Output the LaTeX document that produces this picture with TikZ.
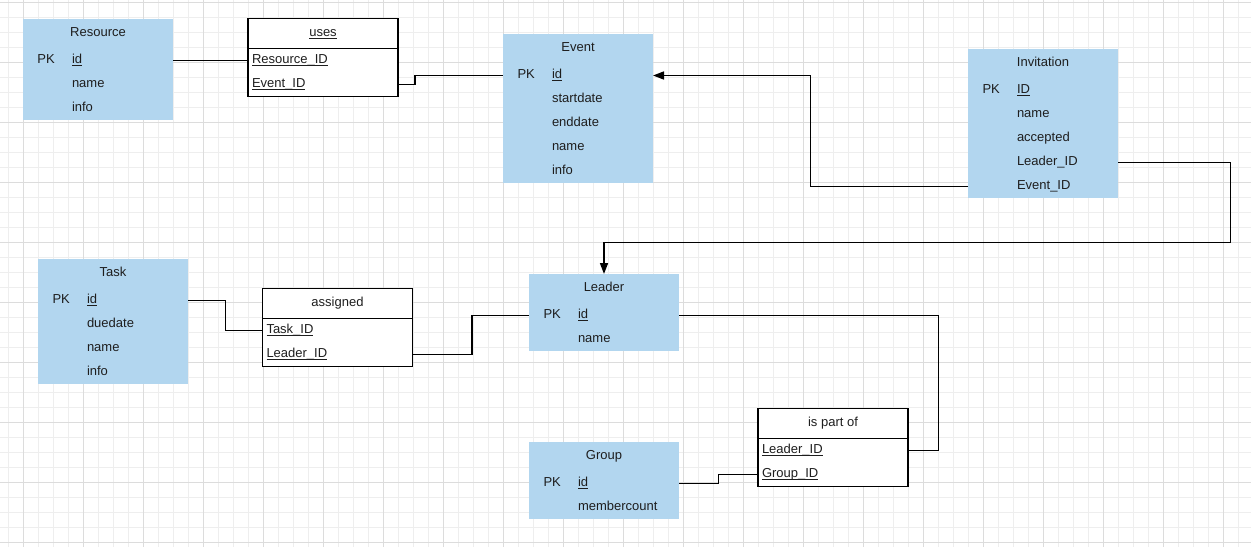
\documentclass[tikz,border=0pt]{standalone}
\usepackage{fontspec}
\setmainfont{Liberation Sans}
\usetikzlibrary{arrows.meta}
\definecolor{entityblue}{HTML}{B2D6EF}
\definecolor{gridminor}{HTML}{EEEEEE}
\definecolor{gridmajor}{HTML}{DCDCDC}
\definecolor{ink}{HTML}{1E1E1E}
% underlined key attribute, rule at a fixed distance below the baseline
\newcommand\keyfield[1]{\setbox0\hbox{#1}\rlap{\rule[-2.2pt]{\wd0}{0.75pt}}\box0}

\begin{document}
\begin{tikzpicture}[x=1pt,y=-1pt,
  every node/.style={font=\fontsize{13}{15}\selectfont, text=ink, inner sep=0pt, outer sep=0pt},
  entity/.style={fill=entityblue, anchor=north west, minimum width=150pt},
  reltable/.style={draw=black, line width=1.7pt, fill=white, anchor=north west,
                   minimum width=150pt, minimum height=78pt},
  txt/.style={text height=9pt, text depth=3pt},
  field/.style={txt, anchor=west},
  title/.style={txt},
  link/.style={draw=black, line width=1.6pt},
  fk/.style={link, -{Triangle[length=11pt,width=8pt]}},
  minorline/.style={draw=gridminor, line width=1pt},
  majorline/.style={draw=gridmajor, line width=1pt}
]
\useasboundingbox (0,0) rectangle (1251,547);
\fill[white] (0,0) rectangle (1251,547);

% background grid
\foreach \i in {0,...,83} \draw[minorline] ({8.33+15*\i},0) -- ({8.33+15*\i},547);
\foreach \j in {0,...,36} \draw[minorline] (0,{2.33+15*\j}) -- (1251,{2.33+15*\j});
\foreach \i in {0,...,20} \draw[majorline] ({23.33+60*\i},0) -- ({23.33+60*\i},547);
\foreach \j in {0,...,9} \draw[majorline] (0,{2.33+60*\j}) -- (1251,{2.33+60*\j});

% ---- entities ----
\node[entity, minimum height=101pt] (resource) at (23,19) {};
\node[title] (res-t) at (98,33) {Resource};
\node[field] (res-pk) at (37.5,60.5) {PK};
\node[field] (res-id) at (72,60.5) {\keyfield{id}};
\node[field] (res-name) at (72,84.5) {name};
\node[field] (res-info) at (72,108.5) {info};

\node[entity, minimum height=149pt] (event) at (503,34) {};
\node[title] (ev-t) at (578,48) {Event};
\node[field] (ev-pk) at (517.5,75.5) {PK};
\node[field] (ev-id) at (552,75.5) {\keyfield{id}};
\node[field] (ev-start) at (552,99.5) {startdate};
\node[field] (ev-end) at (552,123.5) {enddate};
\node[field] (ev-name) at (552,147.5) {name};
\node[field] (ev-info) at (552,171.5) {info};

\node[entity, minimum height=149pt] (invitation) at (968,49) {};
\node[title] (inv-t) at (1043,63) {Invitation};
\node[field] (inv-pk) at (982.5,90.5) {PK};
\node[field] (inv-id) at (1017,90.5) {\keyfield{ID}};
\node[field] (inv-name) at (1017,114.5) {name};
\node[field] (inv-acc) at (1017,138.5) {accepted};
\node[field] (inv-lid) at (1017,162.5) {Leader\_ID};
\node[field] (inv-eid) at (1017,186.5) {Event\_ID};

\node[entity, minimum height=125pt] (task) at (38,259) {};
\node[title] (task-t) at (113,273) {Task};
\node[field] (task-pk) at (52.5,300.5) {PK};
\node[field] (task-id) at (87,300.5) {\keyfield{id}};
\node[field] (task-due) at (87,324.5) {duedate};
\node[field] (task-name) at (87,348.5) {name};
\node[field] (task-info) at (87,372.5) {info};

\node[entity, minimum height=77pt] (leader) at (529,274) {};
\node[title] (ld-t) at (604,288) {Leader};
\node[field] (ld-pk) at (543.5,315.5) {PK};
\node[field] (ld-id) at (578,315.5) {\keyfield{id}};
\node[field] (ld-name) at (578,339.5) {name};

\node[entity, minimum height=77pt] (group) at (529,442) {};
\node[title] (gr-t) at (604,456) {Group};
\node[field] (gr-pk) at (543.5,483.5) {PK};
\node[field] (gr-id) at (578,483.5) {\keyfield{id}};
\node[field] (gr-count) at (578,507.5) {membercount};

% ---- relationship tables ----
\node[reltable] (uses) at (248,18.5) {};
\draw[line width=1.7pt] ([yshift=-30pt]uses.north west) -- ([yshift=-30pt]uses.north east);
\node[title] (uses-t) at (323,33.2) {\keyfield{uses}};
\node[field] (uses-r1) at (252,60.5) {\keyfield{Resource\_ID}};
\node[field] (uses-r2) at (252,84.5) {\keyfield{Event\_ID}};

\node[reltable] (assigned) at (262.5,288.5) {};
\draw[line width=1.7pt] ([yshift=-30pt]assigned.north west) -- ([yshift=-30pt]assigned.north east);
\node[title] (as-t) at (337.5,303.2) {assigned};
\node[field] (as-r1) at (266.5,330.5) {\keyfield{Task\_ID}};
\node[field] (as-r2) at (266.5,354.5) {\keyfield{Leader\_ID}};

\node[reltable] (ispartof) at (758,408.5) {};
\draw[line width=1.7pt] ([yshift=-30pt]ispartof.north west) -- ([yshift=-30pt]ispartof.north east);
\node[title] (ip-t) at (833,423.2) {is part of};
\node[field] (ip-r1) at (762,450.5) {\keyfield{Leader\_ID}};
\node[field] (ip-r2) at (762,474.5) {\keyfield{Group\_ID}};

% ---- connectors ----
\draw[link] (resource.east |- res-id) -- (uses.west |- uses-r1);
\draw[link] (uses.east |- uses-r2) -- ++(17,0) |- (event.west |- ev-id);
\draw[fk] (invitation.west |- inv-eid) -- ++(-157.5,0) |- (event.east |- ev-id);
\draw[fk] (invitation.east |- inv-lid) -- ++(112.5,0) -- ++(0,80) -| (leader.north);
\draw[link] (task.east |- task-id) -- ++(37.5,0) |- (assigned.west |- as-r1);
\draw[link] (assigned.east |- as-r2) -- ++(59.5,0) |- (leader.west |- ld-id);
\draw[link] (leader.east |- ld-id) -- ++(259.5,0) |- (ispartof.east |- ip-r1);
\draw[link] (group.east |- gr-id) -- ++(39.5,0) |- (ispartof.west |- ip-r2);
\end{tikzpicture}
\end{document}
